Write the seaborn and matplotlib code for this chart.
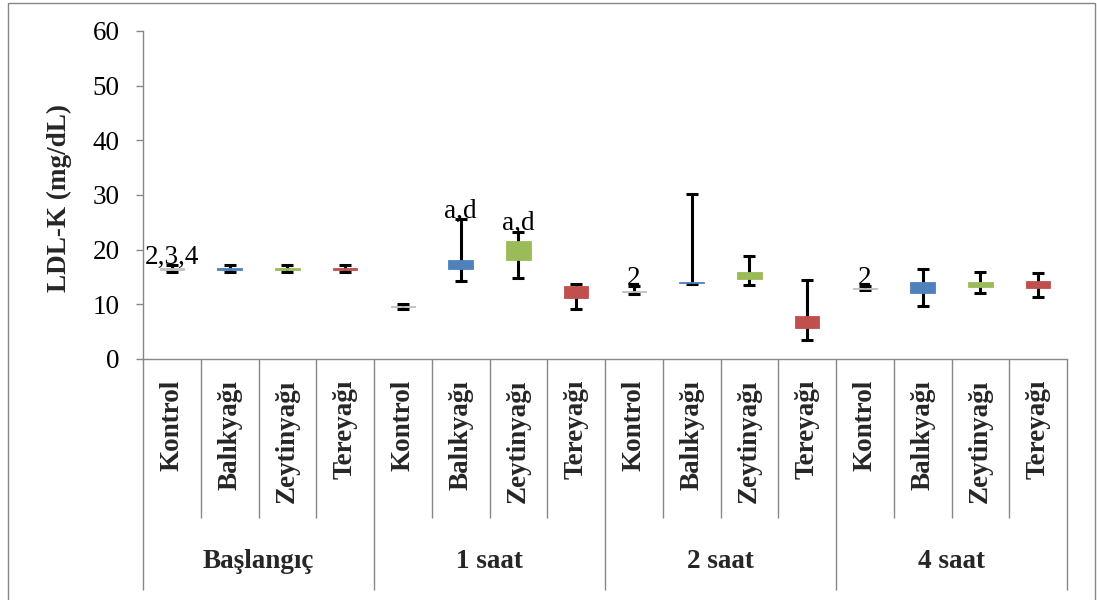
import numpy as np
import matplotlib
matplotlib.use("Agg")
import matplotlib.pyplot as plt
import matplotlib.transforms as mtransforms
from matplotlib.patches import Rectangle
import seaborn as sns

# Time points and treatment groups
groups = ["Başlangıç", "1 saat", "2 saat", "4 saat"]
treatments = ["Kontrol", "Balıkyağı", "Zeytinyağı", "Tereyağı"]
treatment_colors = ["#BFBFBF", "#4F81BD", "#9BBB59", "#C0504D"]

# LDL-K (mg/dL): whisker minimum, lower quartile, upper quartile, whisker maximum
ldl_min = [15.9, 15.9, 15.9, 15.9,
           9.2, 14.3, 14.9, 9.1,
           11.8, 13.8, 13.5, 3.4,
           12.6, 9.7, 12.0, 11.4]
ldl_q1 = [16.3, 16.3, 16.3, 16.3,
          9.5, 16.4, 18.2, 11.2,
          12.2, 13.9, 14.7, 5.7,
          12.8, 12.0, 13.1, 12.9]
ldl_q3 = [16.6, 16.6, 16.6, 16.6,
          9.7, 18.2, 21.5, 13.3,
          12.4, 14.0, 15.9, 7.9,
          13.0, 14.0, 14.1, 14.2]
ldl_max = [17.2, 17.2, 17.2, 17.2,
           10.1, 25.6, 23.3, 13.8,
           13.3, 30.1, 18.8, 14.4,
           13.3, 16.4, 16.0, 15.8]

# Significance marks written above the whiskers
sig_labels = ["2,3,4", "", "", "",
              "", "a,d", "a,d", "",
              "2", "", "", "",
              "2", "", "", ""]

y_ticks = [0, 10, 20, 30, 40, 50, 60]

sns.set_style("white")
plt.rcParams["font.family"] = ["Liberation Serif", "DejaVu Serif"]
FS = 19.5
AXIS_GRAY = "#878787"

keys = [f"{g}|{t}" for g in groups for t in treatments]
colors = [c for _ in groups for c in treatment_colors]
lo = np.array(ldl_min)
q1 = np.array(ldl_q1)
q3 = np.array(ldl_q3)
hi = np.array(ldl_max)

fig = plt.figure(figsize=(10.97, 6.0), dpi=100)
ax = fig.add_axes([143 / 1097, 1 - 359 / 600, (1067 - 143) / 1097, 328 / 600])

# Whiskers (min to max) with caps
xpos = np.arange(len(keys))
ax.errorbar(xpos, lo, yerr=[np.zeros_like(lo), hi - lo], fmt="none",
            ecolor="black", elinewidth=2.2, capsize=4.5, capthick=2.2, zorder=2)

# Quartile boxes drawn as floating bars
sns.barplot(x=keys, y=q3 - q1, order=keys, bottom=q1, width=0.42,
            errorbar=None, color="#BFBFBF", ax=ax, zorder=3, linewidth=0.6)
for patch, c in zip(ax.patches, colors):
    patch.set_facecolor(c)
    patch.set_edgecolor(c)

# Significance labels
for i, lab in enumerate(sig_labels):
    if lab:
        ax.text(i, hi[i] + 0.25, lab, ha="center", va="baseline",
                fontsize=FS, color="black", zorder=4)

ax.set_xlim(-0.5, len(keys) - 0.5)
ax.set_ylim(0, 60)
ax.set_yticks(y_ticks)
ax.set_yticklabels([str(v) for v in y_ticks])
ax.tick_params(axis="y", left=True, length=5, width=1.0, color=AXIS_GRAY,
               pad=12, labelsize=FS, labelcolor="black")
ax.tick_params(axis="x", bottom=False, labelbottom=False)
ax.set_xlabel("")
ax.set_ylabel("")
for side in ["top", "right"]:
    ax.spines[side].set_visible(False)
for side in ["left", "bottom"]:
    ax.spines[side].set_color(AXIS_GRAY)
    ax.spines[side].set_linewidth(1.0)

# Multi-level category axis
trans = mtransforms.blended_transform_factory(ax.transData, ax.transAxes)
inner_bottom = (359 - 518) / 328
outer_bottom = (359 - 590) / 328
for k in range(len(keys) + 1):
    xb = k - 0.5
    y_end = outer_bottom if k % len(treatments) == 0 else inner_bottom
    ax.plot([xb, xb], [0, y_end], transform=trans, color=AXIS_GRAY,
            lw=1.0, clip_on=False, solid_capstyle="butt")

label_top = (359 - 380) / 328
for i, key in enumerate(keys):
    ax.text(i, label_top, key.split("|")[1], transform=trans, rotation=90,
            ha="center", va="top", fontsize=FS, fontweight="bold")

group_y = (359 - 562) / 328
for gi, g in enumerate(groups):
    center = gi * len(treatments) + (len(treatments) - 1) / 2
    ax.text(center, group_y, g, transform=trans, ha="center", va="center",
            fontsize=FS, fontweight="bold")

fig.text(59 / 1097, 1 - 198 / 600, "LDL-K (mg/dL)", rotation=90,
         ha="center", va="center", fontsize=FS, fontweight="bold")

# Chart frame
fig.patches.append(Rectangle((8 / 1097, -0.05), (1095 - 8) / 1097, 1.05 - 3 / 600,
                             transform=fig.transFigure, fill=False,
                             edgecolor=AXIS_GRAY, lw=1.0))

fig.savefig("out.png", dpi=100)
